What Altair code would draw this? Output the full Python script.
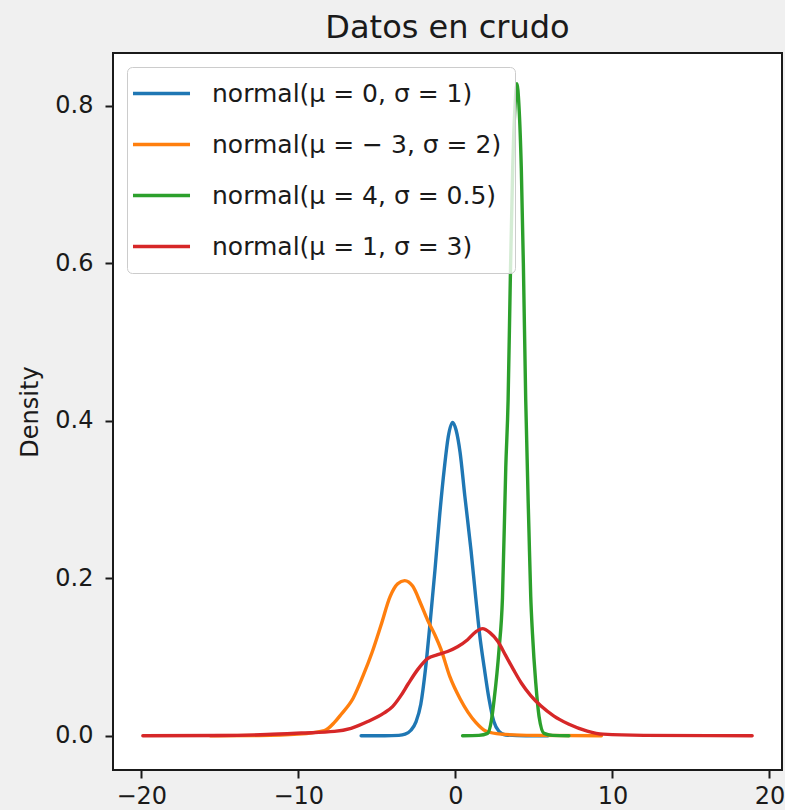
import altair as alt
import pandas as pd

series_names = [
    "normal(μ = 0, σ = 1)",
    "normal(μ = − 3, σ = 2)",
    "normal(μ = 4, σ = 0.5)",
    "normal(μ = 1, σ = 3)",
]
series_colors = ["#1f77b4", "#ff7f0e", "#2ca02c", "#d62728"]

blue_x = [-6.0, -4.5, -3.6, -3.2, -2.83, -2.5, -2.2, -1.9, -1.6, -1.3, -1.0, -0.7, -0.45,
          -0.18, 0.05, 0.3, 0.6, 1.0, 1.3, 1.55, 1.85, 2.15, 2.45, 2.78, 3.2, 4.5, 5.9]
blue_y = [0.0, 0.0, 0.0005, 0.002, 0.007, 0.018, 0.04, 0.085, 0.145, 0.21, 0.28, 0.34, 0.38,
          0.398, 0.388, 0.36, 0.305, 0.235, 0.175, 0.128, 0.085, 0.046, 0.018, 0.0055, 0.001, 0.0, 0.0]

orange_x = [-15.6, -12.5, -10.0, -8.34, -7.7, -7.28, -6.5, -5.9, -5.3, -4.74, -4.15, -3.67, -3.23,
            -2.72, -2.19, -1.77, -1.3, -0.92, -0.35, 0.3, 0.8, 1.3, 1.94, 2.9, 5.0, 9.3]
orange_y = [0.0, 0.0003, 0.002, 0.0065, 0.017, 0.027, 0.048, 0.075, 0.106, 0.14, 0.177, 0.193, 0.197,
            0.19, 0.167, 0.147, 0.128, 0.11, 0.075, 0.047, 0.03, 0.017, 0.006, 0.002, 0.0005, 0.0]

green_x = [0.46, 1.5, 2.05, 2.3, 2.47, 2.78, 3.0, 3.21, 3.36, 3.5, 3.65, 3.8, 3.92, 4.05, 4.2,
           4.33, 4.48, 4.69, 4.8, 4.91, 5.12, 5.33, 5.65, 6.2, 7.23]
green_y = [0.0, 0.0005, 0.003, 0.02, 0.046, 0.109, 0.175, 0.34, 0.427, 0.58, 0.72, 0.8, 0.828, 0.8, 0.72,
           0.6, 0.427, 0.258, 0.177, 0.13, 0.067, 0.0245, 0.003, 0.0005, 0.0]

red_x = [-19.9, -15.0, -12.0, -9.8, -7.7, -6.64, -5.58, -4.53, -4.0, -3.5, -3.0, -2.4, -1.77, -1.13, -0.5,
         0.14, 0.78, 1.3, 1.73, 2.2, 2.7, 3.2, 3.7, 4.2, 4.8, 5.44, 6.28, 7.2, 8.4, 9.4, 12.0, 18.9]
red_y = [0.0, 0.0003, 0.0015, 0.0034, 0.0055, 0.0095, 0.018, 0.029, 0.037, 0.05, 0.066, 0.084, 0.098, 0.103, 0.107,
         0.113, 0.122, 0.132, 0.136, 0.131, 0.12, 0.102, 0.084, 0.067, 0.051, 0.038, 0.025, 0.015, 0.006, 0.002, 0.0005, 0.0]

xs = [blue_x, orange_x, green_x, red_x]
ys = [blue_y, orange_y, green_y, red_y]

rows = []
for name, sx, sy in zip(series_names, xs, ys):
    for i, (a, b) in enumerate(zip(sx, sy)):
        rows.append({"serie": name, "x": a, "y": b, "i": i})
df = pd.DataFrame(rows)

FONT = "DejaVu Sans"

chart = (
    alt.Chart(df)
    .mark_line(strokeWidth=3.4, strokeJoin="round", strokeCap="round", interpolate="monotone")
    .encode(
        x=alt.X(
            "x:Q",
            title="",
            scale=alt.Scale(domain=[-21.8, 20.8], nice=False, zero=False),
            axis=alt.Axis(values=[-20, -10, 0, 10, 20], format="d", grid=False, domain=False,
                          tickSize=8, tickWidth=2, tickColor="#1a1a1a", labelPadding=6,
                          labelFontSize=24, labelFont=FONT, labelColor="#1a1a1a"),
        ),
        y=alt.Y(
            "y:Q",
            title="Density",
            scale=alt.Scale(domain=[-0.0435, 0.867], nice=False, zero=False),
            axis=alt.Axis(values=[0.0, 0.2, 0.4, 0.6, 0.8], format=".1f", grid=False, domain=False,
                          tickSize=8, tickWidth=2, tickColor="#1a1a1a", labelPadding=12,
                          labelFontSize=24, labelFont=FONT, labelColor="#1a1a1a",
                          titleFontSize=24, titleFont=FONT, titleFontWeight="normal",
                          titleColor="#1a1a1a", titlePadding=12),
        ),
        color=alt.Color(
            "serie:N",
            title=None,
            scale=alt.Scale(domain=series_names, range=series_colors),
            legend=alt.Legend(
                orient="none", legendX=14, legendY=14,
                symbolType="M-2.5,0H2.5", symbolSize=520, symbolStrokeWidth=3.4,
                symbolOffset=8, labelOffset=37,
                labelFontSize=25, labelFont=FONT, labelColor="#1a1a1a", labelLimit=600,
                padding=13, rowPadding=24,
                fillColor="rgba(255,255,255,0.8)", strokeColor="#cccccc", cornerRadius=5,
            ),
        ),
        order="i:Q",
    )
    .properties(
        width=669,
        height=717,
        autosize=alt.AutoSizeParams(type="none"),
        padding={"left": 113, "top": 53, "right": 3, "bottom": 40},
        background="#f0f0f0",
        title=alt.TitleParams("Datos en crudo", fontSize=32, font=FONT, fontWeight="normal",
                              color="#1a1a1a", anchor="middle", frame="group", offset=8),
    )
    .configure_view(stroke="#1a1a1a", strokeWidth=2, fill="white")
)

chart.save("out.html", embed_options={"renderer": "svg", "actions": False})
